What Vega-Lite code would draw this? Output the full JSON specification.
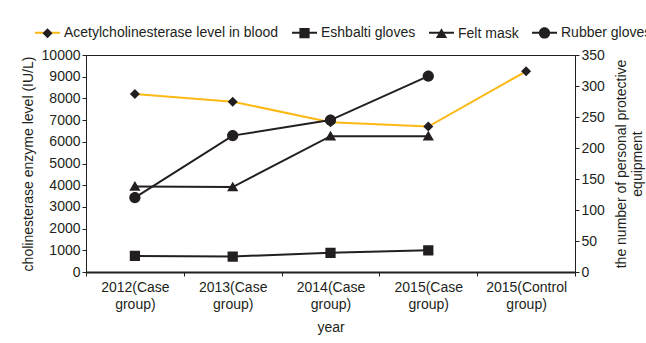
{
  "$schema": "https://vega.github.io/schema/vega-lite/v6.json",
  "width": 489,
  "height": 217,
  "autosize": {"type": "none"},
  "padding": {"left": 86, "top": 55, "right": 71, "bottom": 71},
  "config": {
    "font": "Liberation Sans",
    "view": {"stroke": "#231F20", "strokeWidth": 1},
    "axis": {
      "grid": false,
      "domainColor": "#231F20",
      "tickColor": "#231F20",
      "tickSize": 4,
      "labelColor": "#231F20",
      "labelFontSize": 14,
      "labelPadding": 2,
      "titleColor": "#231F20",
      "titleFontSize": 14,
      "titleFontWeight": "normal"
    },
    "legend": {
      "orient": "none",
      "direction": "horizontal",
      "legendX": -52,
      "legendY": -36,
      "symbolSize": 625,
      "symbolStrokeWidth": 2,
      "labelFontSize": 14,
      "labelColor": "#231F20",
      "labelLimit": 400,
      "labelOffset": 3,
      "columnPadding": 9
    }
  },
  "data": {
    "values": [
      {"group": "2012(Case group)", "series": "Acetylcholinesterase level in blood", "marker": "Acetylcholinesterase level in blood", "value": 8200, "axis": "left"},
      {"group": "2013(Case group)", "series": "Acetylcholinesterase level in blood", "marker": "Acetylcholinesterase level in blood", "value": 7850, "axis": "left"},
      {"group": "2014(Case group)", "series": "Acetylcholinesterase level in blood", "marker": "Acetylcholinesterase level in blood", "value": 6900, "axis": "left"},
      {"group": "2015(Case group)", "series": "Acetylcholinesterase level in blood", "marker": "Acetylcholinesterase level in blood", "value": 6700, "axis": "left"},
      {"group": "2015(Control group)", "series": "Acetylcholinesterase level in blood", "marker": "Acetylcholinesterase level in blood", "value": 9250, "axis": "left"},
      {"group": "2012(Case group)", "series": "Eshbalti gloves", "marker": "Eshbalti gloves", "value": 26, "axis": "right"},
      {"group": "2013(Case group)", "series": "Eshbalti gloves", "marker": "Eshbalti gloves", "value": 25, "axis": "right"},
      {"group": "2014(Case group)", "series": "Eshbalti gloves", "marker": "Eshbalti gloves", "value": 31, "axis": "right"},
      {"group": "2015(Case group)", "series": "Eshbalti gloves", "marker": "Eshbalti gloves", "value": 35, "axis": "right"},
      {"group": "2012(Case group)", "series": "Felt mask", "marker": "Felt mask", "value": 138, "axis": "right"},
      {"group": "2013(Case group)", "series": "Felt mask", "marker": "Felt mask", "value": 137, "axis": "right"},
      {"group": "2014(Case group)", "series": "Felt mask", "marker": "Felt mask", "value": 219, "axis": "right"},
      {"group": "2015(Case group)", "series": "Felt mask", "marker": "Felt mask", "value": 219, "axis": "right"},
      {"group": "2012(Case group)", "series": "Rubber gloves", "marker": "Rubber gloves", "value": 120, "axis": "right"},
      {"group": "2013(Case group)", "series": "Rubber gloves", "marker": "Rubber gloves", "value": 220, "axis": "right"},
      {"group": "2014(Case group)", "series": "Rubber gloves", "marker": "Rubber gloves", "value": 245, "axis": "right"},
      {"group": "2015(Case group)", "series": "Rubber gloves", "marker": "Rubber gloves", "value": 316, "axis": "right"}
    ]
  },
  "encoding": {
    "x": {
      "field": "group",
      "type": "nominal",
      "sort": ["2012(Case group)", "2013(Case group)", "2014(Case group)", "2015(Case group)", "2015(Control group)"],
      "scale": {"type": "band", "paddingInner": 0, "paddingOuter": 0},
      "axis": {
        "title": "year",
        "labelAngle": 0,
        "tickBand": "extent",
        "domainWidth": 2,
        "labelExpr": "split(datum.label, ' ')",
        "labelLineHeight": 17,
        "labelPadding": 4,
        "titlePadding": 9
      }
    }
  },
  "layer": [
    {
      "transform": [{"filter": "datum.axis == 'left'"}],
      "encoding": {
        "y": {
          "field": "value",
          "type": "quantitative",
          "scale": {"domain": [0, 10000], "nice": false},
          "axis": {"title": "cholinesterase enzyme level (IU/L)", "tickCount": 10, "format": "d", "titlePadding": 6}
        }
      },
      "layer": [
        {
          "mark": {"type": "line", "strokeWidth": 2},
          "encoding": {
            "color": {
              "field": "series",
              "type": "nominal",
              "scale": {"range": ["#FDB913", "#231F20", "#231F20", "#231F20"]},
              "legend": {"title": null, "symbolType": "M-1,0L1,0", "symbolStrokeWidth": 2, "labelOpacity": 0}
            }
          }
        },
        {
          "mark": {"type": "point", "filled": true, "color": "#231F20", "opacity": 1, "size": 625, "strokeWidth": 0},
          "encoding": {
            "shape": {
              "field": "marker",
              "type": "nominal",
              "scale": {"range": [
                "M-1,0L1,0M0,-0.4L0.4,0L0,0.4L-0.4,0Z",
                "M-1,0L1,0M-0.41,-0.41H0.41V0.41H-0.41Z",
                "M-1,0L1,0M0,-0.43L0.45,0.34L-0.45,0.34Z",
                "M-1,0L1,0M-0.45,0A0.45,0.45 0 1,1 0.45,0A0.45,0.45 0 1,1 -0.45,0Z"
              ]},
              "legend": {"title": null, "symbolFillColor": "#231F20", "symbolStrokeColor": "transparent", "symbolStrokeWidth": 2, "symbolOpacity": 1}
            }
          }
        }
      ]
    },
    {
      "transform": [{"filter": "datum.axis == 'right'"}],
      "encoding": {
        "y": {
          "field": "value",
          "type": "quantitative",
          "scale": {"domain": [0, 350], "nice": false},
          "axis": {"orient": "right", "title": ["the number of  personal protective", "equipment"], "titleAngle": -90, "tickCount": 7, "titlePadding": 8}
        }
      },
      "layer": [
        {
          "mark": {"type": "line", "strokeWidth": 2},
          "encoding": {
            "color": {
              "field": "series",
              "type": "nominal",
              "scale": {"range": ["#FDB913", "#231F20", "#231F20", "#231F20"]},
              "legend": {"title": null, "symbolType": "M-1,0L1,0", "symbolStrokeWidth": 2, "labelOpacity": 0}
            }
          }
        },
        {
          "mark": {"type": "point", "filled": true, "color": "#231F20", "opacity": 1, "size": 625, "strokeWidth": 0},
          "encoding": {
            "shape": {
              "field": "marker",
              "type": "nominal",
              "scale": {"range": [
                "M-1,0L1,0M0,-0.4L0.4,0L0,0.4L-0.4,0Z",
                "M-1,0L1,0M-0.41,-0.41H0.41V0.41H-0.41Z",
                "M-1,0L1,0M0,-0.43L0.45,0.34L-0.45,0.34Z",
                "M-1,0L1,0M-0.45,0A0.45,0.45 0 1,1 0.45,0A0.45,0.45 0 1,1 -0.45,0Z"
              ]},
              "legend": {"title": null, "symbolFillColor": "#231F20", "symbolStrokeColor": "transparent", "symbolStrokeWidth": 2, "symbolOpacity": 1}
            }
          }
        }
      ]
    }
  ],
  "resolve": {"scale": {"y": "independent"}}
}
